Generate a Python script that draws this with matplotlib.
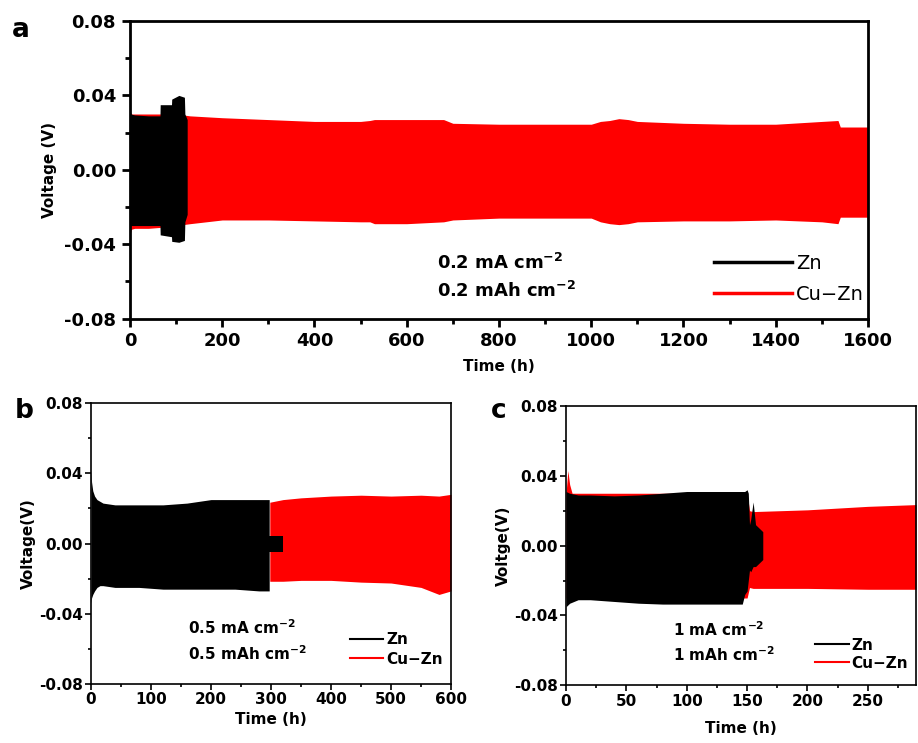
import numpy as np
import matplotlib
matplotlib.use("Agg")
import matplotlib.pyplot as plt
from matplotlib.ticker import MultipleLocator, FormatStrFormatter

plt.rcParams['font.family'] = ['DejaVu Sans']
plt.rcParams['font.weight'] = 'bold'

RED = '#ff0000'
BLACK = '#000000'

# ---- panel a : 0.2 mA cm-2, envelope of the voltage profile
a_cuzn_t = [0, 1, 3, 10, 40, 65, 100, 130, 200, 300, 400, 500, 520, 530, 600, 680, 700,
            800, 900, 1000, 1020, 1040, 1060, 1080, 1100, 1200, 1300, 1400, 1500, 1535, 1540, 1600]
a_cuzn_hi = [0.031, 0.031, 0.030, 0.030, 0.030, 0.030, 0.030, 0.029, 0.028, 0.027, 0.026, 0.026,
             0.0265, 0.027, 0.027, 0.027, 0.025, 0.0245, 0.0245, 0.0245, 0.026, 0.0265, 0.0275,
             0.027, 0.026, 0.025, 0.0245, 0.0245, 0.026, 0.0265, 0.023, 0.023]
a_cuzn_lo = [-0.037, -0.034, -0.032, -0.0315, -0.0315, -0.031, -0.030, -0.029, -0.027, -0.027,
             -0.0275, -0.028, -0.028, -0.029, -0.029, -0.028, -0.027, -0.026, -0.026, -0.026,
             -0.028, -0.029, -0.0295, -0.029, -0.028, -0.0275, -0.0275, -0.027, -0.028, -0.029,
             -0.0255, -0.0255]
a_zn_t = [0, 2, 10, 40, 65, 65.5, 90, 90.5, 106, 118, 119, 124]
a_zn_hi = [0.032, 0.030, 0.0295, 0.029, 0.029, 0.035, 0.035, 0.038, 0.040, 0.039, 0.030, 0.027]
a_zn_lo = [-0.031, -0.030, -0.030, -0.030, -0.030, -0.035, -0.036, -0.0385, -0.039, -0.038, -0.028, -0.024]

# ---- panel b : 0.5 mA cm-2
b_zn_t = [0, 1, 3, 6, 10, 15, 20, 40, 80, 120, 160, 200, 240, 280, 297]
b_zn_hi = [0.042, 0.035, 0.030, 0.027, 0.025, 0.024, 0.023, 0.022, 0.022, 0.022, 0.023, 0.025,
           0.025, 0.025, 0.025]
b_zn_lo = [-0.034, -0.031, -0.029, -0.027, -0.025, -0.024, -0.024, -0.025, -0.025, -0.026,
           -0.026, -0.026, -0.026, -0.027, -0.027]
b_zn_tail_t = [297, 320]
b_zn_tail_hi = [0.004, 0.004]
b_zn_tail_lo = [-0.005, -0.005]
b_cuzn_t = [298, 320, 350, 400, 450, 500, 550, 580, 600]
b_cuzn_hi = [0.0235, 0.025, 0.026, 0.027, 0.0275, 0.027, 0.0275, 0.027, 0.028]
b_cuzn_lo = [-0.0215, -0.0215, -0.021, -0.021, -0.022, -0.0225, -0.025, -0.029, -0.027]

# ---- panel c : 1 mA cm-2
c_cuzn_t = [0, 1.5, 3, 5, 150, 152, 155, 200, 250, 290]
c_cuzn_hi = [0.030, 0.043, 0.035, 0.030, 0.030, 0.020, 0.0195, 0.0205, 0.0225, 0.0235]
c_cuzn_lo = [-0.030, -0.030, -0.030, -0.030, -0.030, -0.024, -0.0245, -0.0245, -0.025, -0.025]
c_zn_t = [0, 3, 10, 20, 40, 60, 80, 100, 120, 140, 146, 148, 150, 151, 152, 153, 155, 157, 160, 163]
c_zn_hi = [0.031, 0.030, 0.029, 0.029, 0.0285, 0.029, 0.030, 0.031, 0.031, 0.031, 0.031, 0.031,
           0.032, 0.030, 0.012, 0.015, 0.025, 0.012, 0.010, 0.008]
c_zn_lo = [-0.035, -0.033, -0.031, -0.031, -0.032, -0.033, -0.0335, -0.0335, -0.0335, -0.0335,
           -0.0335, -0.028, -0.026, -0.020, -0.014, -0.015, -0.012, -0.012, -0.010, -0.008]


def style_axes(ax, xmax, xmajor, lw, ticklen, fs, pad):
    ax.set_xlim(0, xmax)
    ax.set_ylim(-0.08, 0.08)
    ax.xaxis.set_major_locator(MultipleLocator(xmajor))
    ax.xaxis.set_minor_locator(MultipleLocator(xmajor / 2))
    ax.yaxis.set_major_locator(MultipleLocator(0.04))
    ax.yaxis.set_minor_locator(MultipleLocator(0.02))
    ax.yaxis.set_major_formatter(FormatStrFormatter('%.2f'))
    for s in ax.spines.values():
        s.set_linewidth(lw)
    ax.tick_params(which='major', direction='out', length=ticklen, width=lw, labelsize=fs, pad=pad)
    ax.tick_params(which='minor', direction='out', length=ticklen * 0.6, width=lw)
    ax.tick_params(top=False, right=False)
    for lab in ax.get_xticklabels() + ax.get_yticklabels():
        lab.set_fontweight('bold')


fig = plt.figure(figsize=(9.18, 7.43), dpi=100)

# panel a
ax1 = fig.add_axes([0.1416, 0.5713, 0.8039, 0.4004])
ax1.fill_between(a_cuzn_t, a_cuzn_lo, a_cuzn_hi, color=RED, lw=0)
ax1.fill_between(a_zn_t, a_zn_lo, a_zn_hi, color=BLACK, lw=0)
ax1.plot([], [], color=BLACK, lw=2.5, label='Zn')
ax1.plot([], [], color=RED, lw=2.5, label='Cu\u2212Zn')
style_axes(ax1, 1600, 200, 2.0, 6, 13, 4)
ax1.set_xlabel('Time (h)', fontsize=11, fontweight='bold', labelpad=6)
ax1.set_ylabel('Voltage (V)', fontsize=11, fontweight='bold', labelpad=5)
ax1.text(666, -0.050, '0.2 mA cm$^{\\mathbf{-2}}$', fontsize=13, fontweight='bold', va='center')
ax1.text(666, -0.065, '0.2 mAh cm$^{\\mathbf{-2}}$', fontsize=13, fontweight='bold', va='center')
ax1.legend(loc='lower right', frameon=False, handlelength=4.0, handletextpad=0.2,
           labelspacing=0.65, borderaxespad=0.0, bbox_to_anchor=(1.005, 0.022),
           prop={'weight': 'normal', 'size': 14})

# panel b
ax2 = fig.add_axes([0.0991, 0.0794, 0.3922, 0.3782])
ax2.fill_between(b_cuzn_t, b_cuzn_lo, b_cuzn_hi, color=RED, lw=0)
ax2.fill_between(b_zn_t, b_zn_lo, b_zn_hi, color=BLACK, lw=0)
ax2.fill_between(b_zn_tail_t, b_zn_tail_lo, b_zn_tail_hi, color=BLACK, lw=0)
ax2.plot([], [], color=BLACK, lw=1.5, label='Zn')
ax2.plot([], [], color=RED, lw=1.5, label='Cu\u2212Zn')
style_axes(ax2, 600, 100, 1.2, 4, 11, 2)
ax2.set_xlabel('Time (h)', fontsize=11, fontweight='bold', labelpad=3)
ax2.set_ylabel('Voltage(V)', fontsize=11, fontweight='bold', labelpad=2)
ax2.text(162, -0.048, '0.5 mA cm$^{\\mathbf{-2}}$', fontsize=11, fontweight='bold', va='center')
ax2.text(162, -0.0625, '0.5 mAh cm$^{\\mathbf{-2}}$', fontsize=11, fontweight='bold', va='center')
ax2.legend(loc='lower right', frameon=False, handlelength=2.2, handletextpad=0.2,
           labelspacing=0.3, borderaxespad=0.0, bbox_to_anchor=(0.995, 0.04),
           prop={'weight': 'bold', 'size': 11})

# panel c
ax3 = fig.add_axes([0.6166, 0.0777, 0.3813, 0.3759])
ax3.fill_between(c_cuzn_t, c_cuzn_lo, c_cuzn_hi, color=RED, lw=0)
ax3.fill_between(c_zn_t, c_zn_lo, c_zn_hi, color=BLACK, lw=0)
ax3.plot([], [], color=BLACK, lw=1.5, label='Zn')
ax3.plot([], [], color=RED, lw=1.5, label='Cu\u2212Zn')
style_axes(ax3, 290, 50, 1.2, 4, 11, 2)
ax3.set_xlabel('Time (h)', fontsize=11, fontweight='bold', labelpad=9)
ax3.set_ylabel('Voltge(V)', fontsize=11, fontweight='bold', labelpad=2)
ax3.text(89, -0.048, '1 mA cm$^{\\mathbf{-2}}$', fontsize=11, fontweight='bold', va='center')
ax3.text(89, -0.0625, '1 mAh cm$^{\\mathbf{-2}}$', fontsize=11, fontweight='bold', va='center')
ax3.legend(loc='lower right', frameon=False, handlelength=2.2, handletextpad=0.2,
           labelspacing=0.2, borderaxespad=0.0, bbox_to_anchor=(0.995, 0.03),
           prop={'weight': 'bold', 'size': 11})

fig.text(0.013, 0.950, 'a', fontsize=19, fontweight='bold', va='baseline')
fig.text(0.016, 0.437, 'b', fontsize=19, fontweight='bold', va='baseline')
fig.text(0.535, 0.437, 'c', fontsize=19, fontweight='bold', va='baseline')

fig.savefig('out.png', dpi=100)
